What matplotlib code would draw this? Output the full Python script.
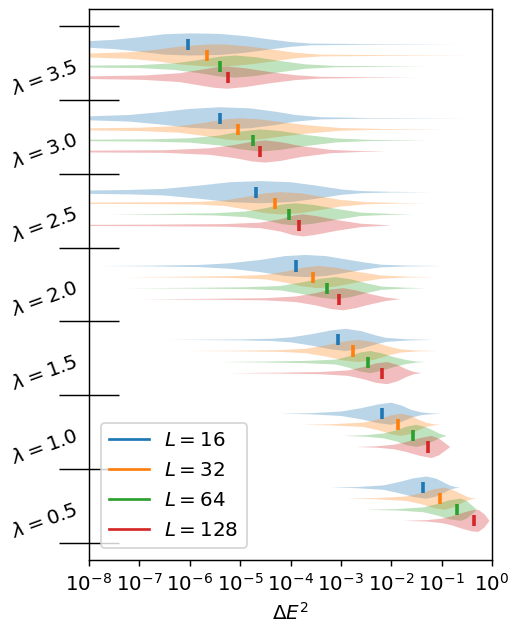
import matplotlib.pyplot as plt
from matplotlib.lines import Line2D

plt.rcParams['font.size'] = 11

# groups (bottom to top) and system sizes
lambdas = [0.5, 1.0, 1.5, 2.0, 2.5, 3.0, 3.5]
sizes = [16, 32, 64, 128]
colors = ['C0', 'C1', 'C2', 'C3']

# medians of log10(dE^2), one per lambda (0.5 ... 3.5)
median_L16 = [-1.36, -2.18, -3.06, -3.89, -4.68, -5.40, -6.03]
median_L32 = [-1.04, -1.87, -2.75, -3.55, -4.31, -5.05, -5.65]
median_L64 = [-0.70, -1.56, -2.47, -3.27, -4.03, -4.74, -5.40]
median_L128 = [-0.35, -1.27, -2.18, -3.03, -3.83, -4.60, -5.25]

# density outline: (log10 dE^2, relative width)
shape_L16 = [
    [(-3.2, 0), (-2.7, 0.05), (-2.15, 0.2), (-1.85, 0.5), (-1.55, 0.85), (-1.3, 1.0), (-1.1, 0.8), (-0.95, 0.45), (-0.83, 0.18), (-0.72, 0.05), (-0.64, 0)],
    [(-4.2, 0), (-3.6, 0.05), (-3.0, 0.2), (-2.6, 0.5), (-2.25, 0.85), (-2.0, 1.0), (-1.8, 0.75), (-1.6, 0.35), (-1.4, 0.12), (-1.2, 0.04), (-1.0, 0)],
    [(-6.4, 0), (-5.0, 0.04), (-4.4, 0.1), (-4.0, 0.22), (-3.6, 0.5), (-3.2, 0.85), (-2.9, 1.0), (-2.6, 0.8), (-2.3, 0.4), (-2.1, 0.18), (-1.7, 0.06), (-1.17, 0)],
    [(-7.8, 0), (-6.8, 0.03), (-5.8, 0.1), (-5.2, 0.25), (-4.6, 0.55), (-4.1, 0.9), (-3.7, 1.0), (-3.3, 0.9), (-2.9, 0.6), (-2.5, 0.3), (-2.2, 0.12), (-1.7, 0.04), (-0.97, 0)],
    [(-8.6, 0.12), (-8.0, 0.15), (-7.2, 0.2), (-6.5, 0.3), (-5.8, 0.6), (-5.2, 0.9), (-4.6, 1.0), (-4.0, 0.9), (-3.5, 0.6), (-3.0, 0.25), (-2.6, 0.1), (-2.0, 0.03), (-1.23, 0)],
    [(-8.6, 0.15), (-8.0, 0.18), (-7.2, 0.3), (-6.6, 0.55), (-6.0, 0.85), (-5.4, 1.0), (-4.8, 0.9), (-4.3, 0.6), (-3.9, 0.3), (-3.4, 0.1), (-2.5, 0.03), (-0.45, 0)],
    [(-8.6, 0.25), (-8.0, 0.3), (-7.5, 0.42), (-7.0, 0.65), (-6.5, 0.92), (-6.0, 1.0), (-5.4, 0.95), (-4.9, 0.75), (-4.4, 0.45), (-4.0, 0.22), (-3.6, 0.08), (-2.5, 0.03), (-0.7, 0)],
]
shape_L32 = [
    [(-2.9, 0), (-2.3, 0.05), (-1.7, 0.2), (-1.4, 0.5), (-1.15, 0.85), (-0.95, 1.0), (-0.78, 0.8), (-0.62, 0.45), (-0.5, 0.18), (-0.4, 0.05), (-0.3, 0)],
    [(-3.75, 0), (-3.2, 0.05), (-2.55, 0.2), (-2.25, 0.5), (-2.0, 0.85), (-1.8, 1.0), (-1.6, 0.8), (-1.45, 0.45), (-1.3, 0.18), (-1.15, 0.05), (-1.03, 0)],
    [(-6.05, 0), (-5.0, 0.03), (-4.2, 0.08), (-3.7, 0.2), (-3.3, 0.5), (-2.95, 0.85), (-2.65, 1.0), (-2.35, 0.8), (-2.05, 0.4), (-1.82, 0.15), (-1.5, 0.04), (-1.03, 0)],
    [(-7.3, 0), (-6.3, 0.03), (-5.2, 0.08), (-4.5, 0.2), (-4.1, 0.5), (-3.75, 0.85), (-3.45, 1.0), (-3.1, 0.85), (-2.7, 0.5), (-2.2, 0.15), (-1.7, 0.04), (-1.17, 0)],
    [(-8.0, 0.06), (-6.8, 0.08), (-5.8, 0.12), (-5.3, 0.25), (-4.9, 0.55), (-4.5, 0.9), (-4.2, 1.0), (-3.8, 0.9), (-3.4, 0.6), (-3.0, 0.3), (-2.5, 0.1), (-1.9, 0.03), (-1.3, 0)],
    [(-8.6, 0.08), (-8.0, 0.09), (-7.0, 0.15), (-6.2, 0.3), (-5.7, 0.6), (-5.3, 0.9), (-5.0, 1.0), (-4.6, 0.9), (-4.1, 0.6), (-3.6, 0.35), (-3.0, 0.12), (-2.2, 0.04), (-0.9, 0)],
    [(-8.6, 0.15), (-8.0, 0.18), (-7.2, 0.3), (-6.7, 0.5), (-6.2, 0.8), (-5.7, 0.98), (-5.3, 1.0), (-4.8, 0.8), (-4.3, 0.5), (-3.9, 0.25), (-3.4, 0.08), (-2.0, 0.03), (-0.5, 0)],
]
shape_L64 = [
    [(-2.5, 0), (-1.9, 0.06), (-1.36, 0.22), (-1.1, 0.5), (-0.85, 0.85), (-0.62, 1.0), (-0.5, 0.8), (-0.4, 0.4), (-0.3, 0)],
    [(-2.95, 0), (-2.5, 0.07), (-2.15, 0.22), (-1.9, 0.5), (-1.68, 0.85), (-1.5, 1.0), (-1.32, 0.8), (-1.15, 0.45), (-1.03, 0.18), (-0.9, 0)],
    [(-5.4, 0), (-4.5, 0.04), (-3.7, 0.1), (-3.1, 0.22), (-2.85, 0.5), (-2.62, 0.85), (-2.42, 1.0), (-2.2, 0.8), (-1.95, 0.45), (-1.7, 0.18), (-1.49, 0.04), (-1.33, 0)],
    [(-7.25, 0), (-6.0, 0.03), (-4.9, 0.08), (-4.2, 0.2), (-3.8, 0.5), (-3.4, 0.85), (-3.1, 1.0), (-2.8, 0.8), (-2.5, 0.45), (-2.2, 0.15), (-1.7, 0.04), (-1.3, 0)],
    [(-7.6, 0), (-6.5, 0.04), (-5.5, 0.1), (-4.9, 0.25), (-4.5, 0.55), (-4.15, 0.9), (-3.9, 1.0), (-3.55, 0.85), (-3.1, 0.5), (-2.6, 0.15), (-2.0, 0.04), (-1.57, 0)],
    [(-8.6, 0.06), (-8.0, 0.07), (-6.8, 0.1), (-6.0, 0.2), (-5.4, 0.45), (-5.0, 0.8), (-4.6, 1.0), (-4.2, 0.85), (-3.7, 0.5), (-3.1, 0.18), (-2.4, 0.05), (-1.3, 0)],
    [(-8.6, 0.08), (-8.0, 0.09), (-7.0, 0.13), (-6.3, 0.3), (-5.8, 0.6), (-5.4, 0.9), (-5.1, 1.0), (-4.7, 0.85), (-4.2, 0.5), (-3.7, 0.2), (-3.1, 0.06), (-1.3, 0)],
]
shape_L128 = [
    [(-1.76, 0), (-1.3, 0.06), (-1.0, 0.2), (-0.8, 0.4), (-0.6, 0.7), (-0.4, 0.95), (-0.27, 1.0), (-0.15, 0.6), (-0.05, 0)],
    [(-2.7, 0), (-2.3, 0.06), (-1.95, 0.2), (-1.7, 0.45), (-1.45, 0.78), (-1.2, 1.0), (-1.05, 0.75), (-0.93, 0.35), (-0.83, 0)],
    [(-5.2, 0), (-4.2, 0.04), (-3.4, 0.1), (-2.85, 0.25), (-2.55, 0.55), (-2.3, 0.88), (-2.08, 1.0), (-1.88, 0.75), (-1.7, 0.35), (-1.55, 0.1), (-1.4, 0)],
    [(-6.95, 0), (-5.6, 0.04), (-4.5, 0.1), (-3.9, 0.25), (-3.5, 0.55), (-3.2, 0.88), (-2.95, 1.0), (-2.7, 0.8), (-2.4, 0.45), (-2.1, 0.15), (-1.82, 0)],
    [(-8.0, 0.05), (-6.8, 0.07), (-5.3, 0.12), (-4.6, 0.25), (-4.2, 0.55), (-3.95, 0.88), (-3.75, 1.0), (-3.5, 0.85), (-3.1, 0.5), (-2.6, 0.15), (-2.0, 0)],
    [(-8.6, 0.07), (-8.0, 0.08), (-6.5, 0.12), (-5.6, 0.3), (-5.1, 0.6), (-4.75, 0.9), (-4.5, 1.0), (-4.2, 0.85), (-3.8, 0.5), (-3.2, 0.15), (-2.6, 0.04), (-2.08, 0)],
    [(-8.6, 0.1), (-8.0, 0.12), (-6.9, 0.2), (-6.2, 0.4), (-5.8, 0.7), (-5.5, 0.92), (-5.25, 1.0), (-4.9, 0.85), (-4.4, 0.5), (-3.9, 0.22), (-3.4, 0.08), (-2.5, 0.03), (-1.5, 0)],
]

medians = [median_L16, median_L32, median_L64, median_L128]
shapes = [shape_L16, shape_L32, shape_L64, shape_L128]
offsets = [0.45, 0.30, 0.15, 0.0]

fig = plt.figure(figsize=(3.9693, 4.8155), dpi=130)
ax = fig.add_axes([89 / 516, 66 / 626, 403 / 516, 551 / 626])

for j in range(len(sizes)):
    stats = []
    for m, knots in zip(medians[j], shapes[j]):
        xs = [p[0] for p in knots]
        ws = [p[1] for p in knots]
        stats.append(dict(coords=xs, vals=ws, median=m, mean=m, min=xs[0], max=xs[-1]))
    pos = [k + offsets[j] for k in range(len(lambdas))]
    try:
        parts = ax.violin(stats, positions=pos, orientation='horizontal', widths=0.3,
                          showmedians=True, showextrema=False)
    except TypeError:
        parts = ax.violin(stats, positions=pos, vert=False, widths=0.3,
                          showmedians=True, showextrema=False)
    for body in parts['bodies']:
        body.set_facecolor(colors[j])
        body.set_edgecolor('none')
        body.set_alpha(0.3)
    parts['cmedians'].set_color(colors[j])
    parts['cmedians'].set_linewidth(2)

# x axis: exponents shown as powers of ten
ax.set_xlim(-8, 0)
ax.set_xticks(range(-8, 1))
ax.set_xticklabels([f'$10^{{{e}}}$' for e in range(-8, 1)])
ax.set_xlabel(r'$\Delta E^2$')

# y axis: long separators between groups, labels on the groups
ax.set_yticks([k - 0.3 for k in range(len(lambdas) + 1)])
ax.set_yticklabels([])
ax.set_yticks(range(len(lambdas)), [rf'$\lambda = {l}$' for l in lambdas], minor=True,
              rotation=20, va='center')
ax.tick_params(axis='y', which='major', direction='inout', length=33)
ax.tick_params(axis='y', which='minor', length=0, pad=4.5)
ax.set_ylim(-0.53, 6.93)

handles = [Line2D([], [], color=c) for c in colors]
ax.legend(handles, [f'$L = {L}$' for L in sizes], loc='lower left',
          labelspacing=0.55, borderaxespad=0.6)

fig.savefig('out.png', dpi=130)
